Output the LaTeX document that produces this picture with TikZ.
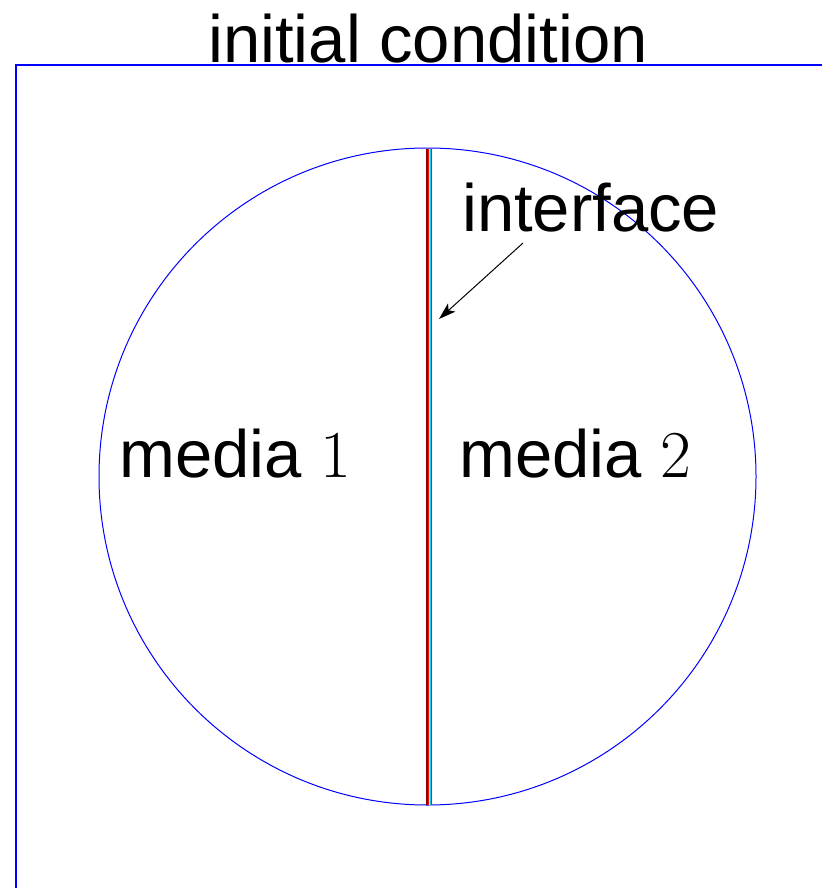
\documentclass[tikz,border=0pt]{standalone}
\usepackage{fix-cm}
\usepackage{fontspec}
\setmainfont{Liberation Sans}
\usetikzlibrary{arrows.meta}
\begin{document}
\begin{tikzpicture}[x=1pt,y=-1pt,
  bigtext/.style={font=\fontsize{67}{80}\selectfont, inner sep=0pt, anchor=base west},
  frameline/.style={draw={rgb,255:red,0;green,0;blue,255}, line width=1.3pt},
  circline/.style={draw={rgb,255:red,0;green,0;blue,255}, line width=1pt}]
\useasboundingbox (0,0) rectangle (822,888);
% frame
\coordinate (fb) at (16,888);
\coordinate (fc) at (16,65);
\coordinate (fr) at (822,65);
\draw[frameline] (fb) -- (fc) -- (fr);
% title
\node[bigtext, anchor=base] (title) at (428,63) {initial condition};
% circle
\coordinate (cc) at (427.5,476.5);
\draw[circline] (cc) circle[radius=328.5];
% interface stripes
\foreach \xa/\xb/\cl in {426/428/{rgb,255:red,140;green,0;blue,0},428/429/{rgb,255:red,230;green,20;blue,0},429/430/{rgb,255:red,255;green,230;blue,0},430/431/{rgb,255:red,0;green,210;blue,255},431/432/{rgb,255:red,0;green,70;blue,255}}
  \fill[fill=\cl] (\xa,148.5) rectangle (\xb,804.5);
% labels
\node[bigtext] (lab1) at (119,477) {media $1$};
\node[bigtext] (lab2) at (459,477) {media $2$};
\node[bigtext] (labi) at (462,231) {interface};
% arrow
\coordinate (as) at (523,243);
\coordinate (ae) at (439,319);
\draw[line width=1pt, -{Stealth[length=17pt,width=11pt,inset=4pt]}] (as) -- (ae);
\end{tikzpicture}
\end{document}
